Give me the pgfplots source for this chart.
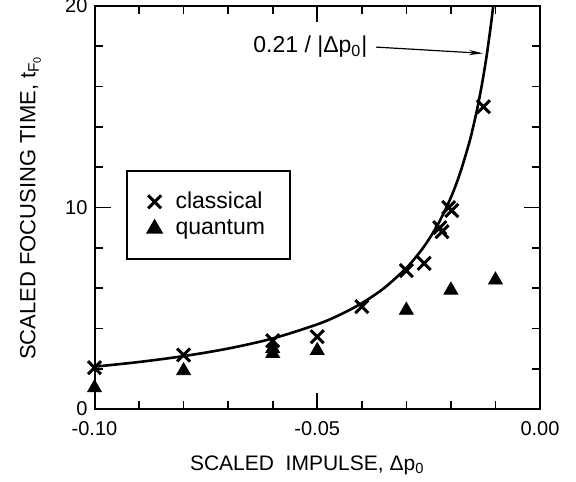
\documentclass[border=0pt]{standalone}
\usepackage{fontspec}
\setmainfont{Liberation Sans}
\usepackage{pgfplots}
\pgfplotsset{compat=1.18}
\usetikzlibrary{arrows.meta}

\begin{document}
\begin{tikzpicture}
\begin{axis}[name=ax, scale only axis, width=222.75pt, height=201.5pt,
  xmin=-0.10, xmax=0, ymin=0, ymax=20,
  xtick={-0.10,-0.05,0}, xticklabels={-0.10,-0.05,0.00},
  ytick={0,10,20}, yticklabels={0,10,20},
  minor xtick={-0.09,-0.08,-0.07,-0.06,-0.04,-0.03,-0.02,-0.01},
  minor ytick={2,4,6,8,12,14,16,18},
  tick align=inside, tick pos=both,
  major tick length=8pt, minor tick length=4pt,
  tick style={black, line width=0.8pt},
  axis line style={line width=1pt},
  tick label style={font=\fontsize{10}{12}\selectfont},
  xticklabel style={yshift=-2.5pt},
  every axis x label/.style={at={(rel axis cs:0.5,0)}, anchor=center, yshift=-28pt, xshift=-5pt,
    font=\fontsize{10.5}{12}\selectfont},
  every axis y label/.style={at={(rel axis cs:0,0.5)}, rotate=90, anchor=center, yshift=32pt,
    font=\fontsize{11}{12}\selectfont},
  xlabel={SCALED\ \ IMPULSE, Δp\textsubscript{0}},
  ylabel={SCALED FOCUSING TIME, t\textsubscript{F\textsubscript{0}}},
  legend style={at={(rel axis cs:0.07,0.593)}, anchor=north west, draw=black, line width=1pt,
    font=\fontsize{11.5}{13}\selectfont, inner xsep=10.5pt, inner ysep=8.5pt,
    cells={anchor=west}, column sep=5pt},
  clip=false]
% 0.21/|dp0| curve, values typed
\addplot[black, line width=1.3pt, smooth, forget plot] coordinates {
  (-0.100,2.100) (-0.090,2.333) (-0.080,2.625) (-0.070,3.000) (-0.060,3.500)
  (-0.050,4.200) (-0.045,4.667) (-0.040,5.250) (-0.035,6.000) (-0.030,7.000)
  (-0.027,7.778) (-0.025,8.400) (-0.0225,9.333) (-0.020,10.500) (-0.018,11.667)
  (-0.016,13.125) (-0.015,14.000) (-0.014,15.000) (-0.013,16.154) (-0.012,17.500)
  (-0.011,19.091) (-0.0105,20.000)};
\addplot[only marks, mark=x, mark size=4.6pt, line width=1.5pt, black] coordinates {
  (-0.100,2.05) (-0.080,2.68) (-0.060,3.39) (-0.050,3.59) (-0.040,5.08)
  (-0.030,6.87) (-0.026,7.23) (-0.0225,9.0) (-0.022,8.8) (-0.0205,10.0)
  (-0.0198,9.85) (-0.0127,15.0)};
\addlegendentry{classical}
\addplot[only marks, mark=triangle*, mark size=4pt, black, fill=black] coordinates {
  (-0.100,1.05) (-0.080,1.9) (-0.060,3.0) (-0.060,2.75) (-0.050,2.9)
  (-0.030,4.9) (-0.020,5.9) (-0.010,6.4)};
\addlegendentry{quantum}
\node[anchor=east, font=\fontsize{11.5}{13}\selectfont, inner sep=1pt] at (axis cs:-0.0382,17.96) {0.21 / |Δp\textsubscript{0}|};
\draw[-{Stealth[length=7pt,width=2.6pt]}, line width=0.6pt] (axis cs:-0.0368,17.96) -- (axis cs:-0.0128,17.65);
\end{axis}
\pgfresetboundingbox
\path (ax.south west) ++(-47.25pt,-36pt) coordinate (bl);
\path (ax.north east) ++(18pt,3pt) coordinate (tr);
\path (bl) rectangle (tr);
\end{tikzpicture}
\end{document}
